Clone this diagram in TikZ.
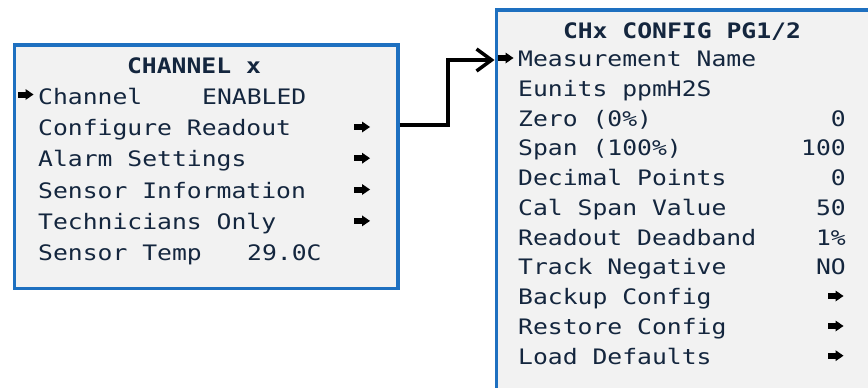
\documentclass[tikz,border=0pt]{standalone}
\usepackage{fontspec}
\usetikzlibrary{arrows.meta}
\newfontfamily\lcd[FakeStretch=1.16]{DejaVu Sans Mono}
\definecolor{lcdbg}{RGB}{242,242,242}
\definecolor{lcdblue}{RGB}{30,112,192}
\definecolor{lcdtext}{RGB}{20,38,62}
\tikzset{
  panel/.style={draw=lcdblue, line width=3.5pt, fill=lcdbg, anchor=north west, inner sep=0pt},
  txt/.style={anchor=base west, inner sep=0pt, text=lcdtext, font=\lcd\fontsize{21.3}{24}\selectfont},
  val/.style={txt, anchor=base east},
  ttl/.style={txt, anchor=base, font=\lcd\bfseries\fontsize{21.3}{24}\selectfont},
  conn/.style={line width=3.5pt, -{Straight Barb[length=15pt,width=22pt]}},
  marker/.pic={\fill (-8,-3) rectangle (1,3); \fill (0,-5.5) -- (8,0) -- (0,5.5) -- cycle;}
}
\begin{document}
\begin{tikzpicture}[x=1pt,y=-1pt]
\useasboundingbox (0,0) rectangle (868,388);
\clip (0,0) rectangle (868,388);
\fill[white] (0,0) rectangle (868,388);
% panels
\node[panel, minimum width=383.5pt, minimum height=243.5pt] (chanbox) at (12.5,43) {};
\node[panel, minimum width=420pt, minimum height=381pt] (cfgbox) at (494.5,8) {};
% left panel text
\node[ttl] (chtitle) at (194,73) {CHANNEL x};
\node[txt] (l1) at (38,104) {Channel};
\node[txt] (l1v) at (202,104) {ENABLED};
\node[txt] (l2) at (38,135.4) {Configure Readout};
\node[txt] (l3) at (38,166.7) {Alarm Settings};
\node[txt] (l4) at (38,198) {Sensor Information};
\node[txt] (l5) at (38,229.4) {Technicians Only};
\node[txt] (l6) at (38,260.7) {Sensor Temp};
\node[txt] (l6v) at (247,260.7) {29.0C};
\pic at (25.5,94.5) {marker};
\pic at (362,127) {marker};
\pic at (362,158.2) {marker};
\pic at (362,189.5) {marker};
\pic at (362,220.9) {marker};
% right panel text
\node[ttl] (cfgtitle) at (682,38) {CHx CONFIG PG1/2};
\node[txt] (r1) at (518,66.7) {Measurement Name};
\node[txt] (r2) at (518,96.4) {Eunits ppmH2S};
\node[txt] (r3) at (518,126.2) {Zero (0\%)};
\node[val] (r3v) at (846,126.2) {0};
\node[txt] (r4) at (518,155.9) {Span (100\%)};
\node[val] (r4v) at (846,155.9) {100};
\node[txt] (r5) at (518,185.7) {Decimal Points};
\node[val] (r5v) at (846,185.7) {0};
\node[txt] (r6) at (518,215.5) {Cal Span Value};
\node[val] (r6v) at (846,215.5) {50};
\node[txt] (r7) at (518,245.2) {Readout Deadband};
\node[val] (r7v) at (846,245.2) {1\%};
\node[txt] (r8) at (518,274.9) {Track Negative};
\node[val] (r8v) at (846,274.9) {NO};
\node[txt] (r9) at (518,304.7) {Backup Config};
\node[txt] (r10) at (518,334.5) {Restore Config};
\node[txt] (r11) at (518,364.2) {Load Defaults};
\pic at (505.5,58) {marker};
\pic at (835.5,296) {marker};
\pic at (835.5,326) {marker};
\pic at (835.5,355.7) {marker};
% connector
\draw[conn] (chanbox.east |- 0,125) -- (448,125) -- (448,60) -- (cfgbox.west |- 0,60);
\end{tikzpicture}
\end{document}
